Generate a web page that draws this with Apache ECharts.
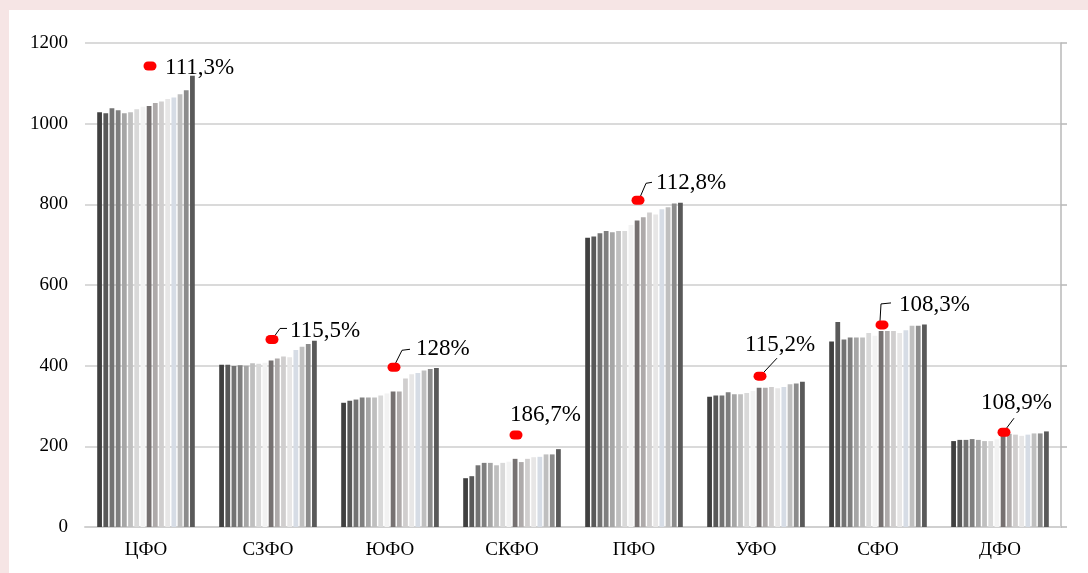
<!DOCTYPE html>
<html>
<head>
<meta charset="utf-8">
<script src="https://cdn.jsdelivr.net/npm/echarts/dist/echarts.min.js"></script>
<style>
  html, body { margin: 0; padding: 0; background: #f6e5e5; }
  #chart { position: absolute; left: 9px; top: 10px; width: 1079px; height: 563px; background: #fff; }
</style>
</head>
<body>
<div id="chart"></div>
<script>
const districts = ['ЦФО', 'СЗФО', 'ЮФО', 'СКФО', 'ПФО', 'УФО', 'СФО', 'ДФО'];

// 16 years per district, left to right
const cfo  = [1028, 1026, 1038, 1033, 1026, 1028, 1036, 1042, 1044, 1051, 1055, 1061, 1065, 1073, 1083, 1119];
const szfo = [402, 402, 399, 401, 400, 406, 405, 407, 413, 418, 423, 421, 439, 447, 454, 462];
const yufo = [308, 313, 316, 321, 321, 321, 326, 331, 336, 336, 368, 379, 382, 388, 392, 394];
const skfo = [121, 126, 153, 159, 159, 153, 159, 162, 169, 161, 169, 173, 174, 180, 180, 193];
const pfo  = [717, 720, 728, 734, 731, 734, 734, 749, 760, 768, 780, 775, 788, 793, 802, 804];
const ufo  = [323, 326, 326, 334, 329, 329, 332, 337, 345, 345, 347, 344, 347, 354, 356, 360];
const sfo  = [460, 508, 465, 470, 470, 470, 481, 474, 486, 486, 486, 481, 488, 499, 499, 502];
const dfo  = [213, 216, 216, 218, 216, 213, 213, 217, 233, 231, 229, 226, 229, 232, 232, 237];

// red markers with growth labels
const growthMarks  = [1143, 465, 396, 228, 810, 374, 501, 235];
const growthLabels = ['111,3%', '115,5%', '128%', '186,7%', '112,8%', '115,2%', '108,3%', '108,9%'];

const yTicks = [0, 200, 400, 600, 800, 1000, 1200];

// styling
const barColors = ['#404040', '#595959', '#737373', '#7f7f7f', '#a6a6a6', '#bfbfbf', '#d9d9d9', '#f2f2f2',
                   '#767171', '#aeaaaa', '#d0cece', '#e7e6e6', '#d6dce5', '#bfbfbf', '#8c8c8c', '#595959'];
// label shift from marker centre: [dx to left edge, dy to middle]
const labelShift = [[15, 2], [18, -8], [22, -18], [-6, -20], [18, -17], [-15, -31], [17, -20], [-23, -29]];
// leader line points relative to marker centre
const leaders = [
  [],
  [[3, -4], [8, -11], [15, -11]],
  [[1, -3], [8, -17], [16, -18]],
  [],
  [[2, -3], [8, -17], [14, -18]],
  [[3, -3], [17, -18]],
  [[-2, -4], [-1, -21], [9, -22]],
  [[1, -2], [10, -14]]
];

const serif = '"Liberation Serif", "Times New Roman", serif';
const byDistrict = [cfo, szfo, yufo, skfo, pfo, ufo, sfo, dfo];

const barSeries = barColors.map((c, i) => ({
  type: 'bar',
  name: String(i + 1),
  data: byDistrict.map(d => d[i]),
  itemStyle: { color: c },
  barGap: '30%',
  barCategoryGap: '20%',
  silent: true
}));

const chart = echarts.init(document.getElementById('chart'));

chart.setOption({
  animation: false,
  grid: { left: 76, right: 27, top: 33, bottom: 46 },
  xAxis: {
    type: 'category',
    data: districts,
    axisLine: { lineStyle: { color: '#d0d0d0', width: 2 } },
    axisTick: { show: false },
    axisLabel: { color: '#000', fontFamily: serif, fontSize: 19, margin: 14 }
  },
  yAxis: [
    {
      type: 'value',
      min: yTicks[0],
      max: yTicks[yTicks.length - 1],
      interval: 200,
      axisLine: { show: false },
      axisTick: { show: false },
      axisLabel: { color: '#000', fontFamily: serif, fontSize: 19, margin: 17, formatter: v => String(v) },
      splitLine: { lineStyle: { color: '#dadada', width: 2 } }
    },
    {
      type: 'value',
      position: 'right',
      min: yTicks[0],
      max: yTicks[yTicks.length - 1],
      interval: 200,
      axisLine: { show: true, lineStyle: { color: '#b8b8b8', width: 1.5 } },
      axisTick: { show: true, length: 6, lineStyle: { color: '#b8b8b8', width: 1.5 } },
      axisLabel: { show: false },
      splitLine: { show: false }
    }
  ],
  series: barSeries.concat([{
    type: 'custom',
    z: 5,
    silent: true,
    data: growthMarks.map((v, i) => [i, v]),
    encode: { x: 0, y: 1 },
    renderItem: (params, api) => {
      const i = params.dataIndex;
      const p = api.coord([api.value(0), api.value(1)]);
      const cx = p[0] + 4;
      const cy = p[1];
      const children = [];
      if (leaders[i].length) {
        children.push({
          type: 'polyline',
          shape: { points: leaders[i].map(q => [cx + q[0], cy + q[1]]) },
          style: { stroke: '#000', lineWidth: 1, fill: null }
        });
      }
      children.push({
        type: 'rect',
        shape: { x: cx - 6.5, y: cy - 4.5, width: 13, height: 9, r: 4.5 },
        style: { fill: '#ff0000' }
      });
      children.push({
        type: 'text',
        style: {
          x: cx + labelShift[i][0],
          y: cy + labelShift[i][1],
          text: growthLabels[i],
          fill: '#000',
          font: '23px ' + serif,
          align: 'left',
          verticalAlign: 'middle'
        }
      });
      return { type: 'group', children };
    }
  }])
});
</script>
</body>
</html>
